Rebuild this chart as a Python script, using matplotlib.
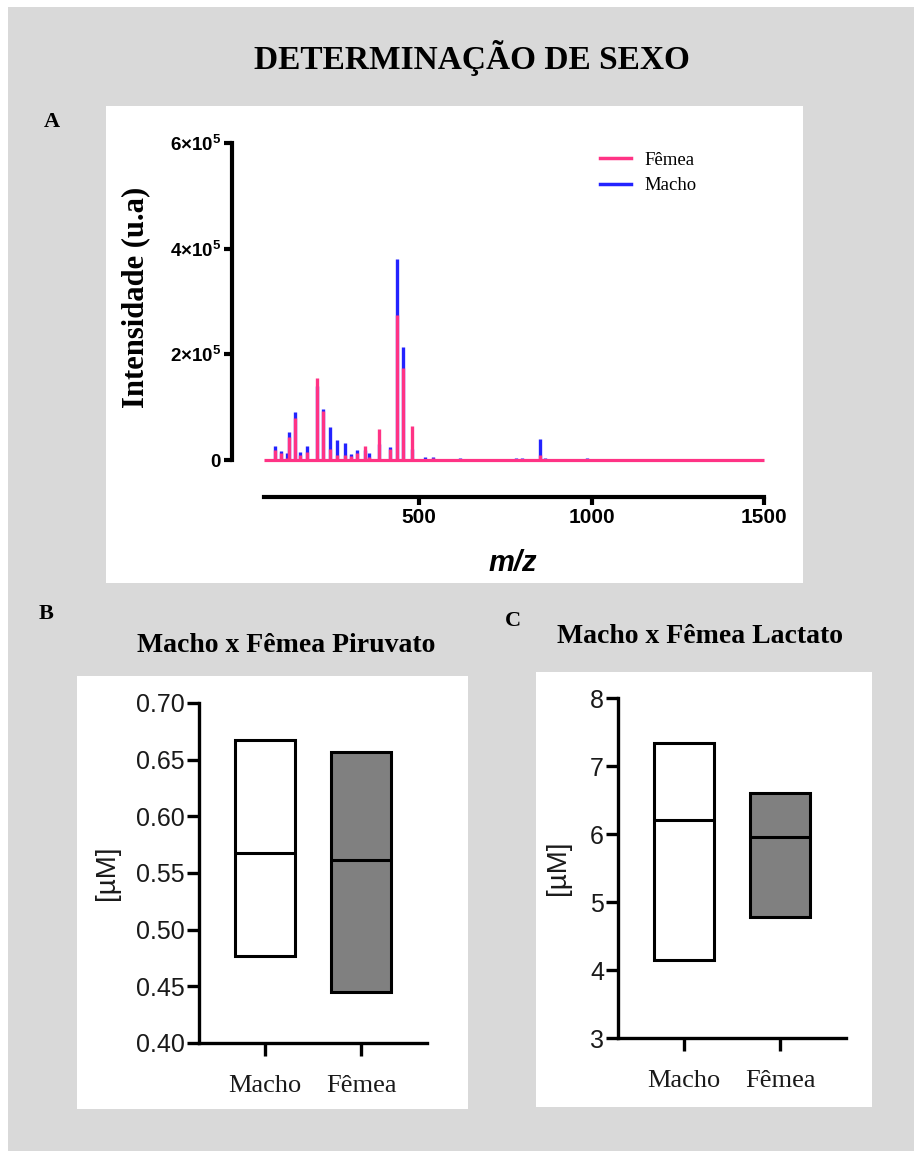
import matplotlib
matplotlib.use("Agg")
import matplotlib.pyplot as plt
from matplotlib.patches import Rectangle
from matplotlib.lines import Line2D
import numpy as np

# ---------------- data ----------------
# Panel A: mass spectrum peaks (m/z, intensity in arbitrary units)
peak_mz = [83, 98, 117, 122, 139, 153, 175, 204, 221, 240, 263, 284, 301, 321,
           343, 355, 384, 415, 437, 453, 478, 516, 539, 617, 648, 720, 749, 782,
           798, 850, 866, 897, 949, 986, 1017, 1148]
femea_int = [19e3, 13e3, 4e3, 43e3, 79e3, 10e3, 16e3, 156e3, 93e3, 20e3, 10e3,
             10e3, 8e3, 13e3, 27e3, 5e3, 58e3, 20e3, 274e3, 175e3, 65e3, 2e3,
             3e3, 2e3, 2e3, 1e3, 1e3, 2e3, 2e3, 10e3, 2e3, 1e3, 1e3, 1e3, 1e3, 1e3]
macho_int = [26e3, 17e3, 13e3, 53e3, 91e3, 16e3, 26e3, 140e3, 96e3, 62e3, 38e3,
             33e3, 12e3, 18e3, 18e3, 13e3, 30e3, 24e3, 380e3, 213e3, 20e3, 5e3,
             6e3, 4e3, 2e3, 2e3, 2e3, 3e3, 4e3, 39e3, 4e3, 2e3, 2e3, 3e3, 2e3, 2e3]
mz_range = [50, 1500]
yticks_a = [0, 2e5, 4e5, 6e5]
yticklabels_a = ["0", r"$\mathbf{2{\times}10^{5}}$", r"$\mathbf{4{\times}10^{5}}$",
                 r"$\mathbf{6{\times}10^{5}}$"]
xticks_a = [500, 1000, 1500]

# Panels B and C: floating bars (min, median, max)
groups = ["Macho", "Fêmea"]
piruvato_min = [0.4765, 0.4447]
piruvato_med = [0.5676, 0.5612]
piruvato_max = [0.6676, 0.6570]
lactato_min = [4.15, 4.78]
lactato_med = [6.21, 5.96]
lactato_max = [7.34, 6.60]

# ---------------- layout helpers ----------------
W, H = 914, 1151
DPI = 100
fig = plt.figure(figsize=(W / DPI, H / DPI), dpi=DPI)
fig.patch.set_facecolor("white")

SERIF = "Liberation Serif"
SANS = "Liberation Sans"
plt.rcParams["mathtext.fontset"] = "custom"
plt.rcParams["mathtext.rm"] = SANS
plt.rcParams["mathtext.bf"] = "Liberation Sans:bold"
plt.rcParams["mathtext.it"] = "Liberation Sans:italic"


def fx(x):
    return x / W


def fy(y):
    return 1 - y / H


def rect(x0, y0, x1, y1):
    return [fx(x0), fy(y1), fx(x1) - fx(x0), fy(y0) - fy(y1)]


# grey page with white panels
fig.add_artist(Rectangle((fx(8), 0), 1 - fx(8), fy(7), transform=fig.transFigure,
                         facecolor="#d9d9d9", edgecolor="none", zorder=-3))
for (x0, y0, x1, y1) in [(106, 106, 803, 583), (77, 676, 468, 1109), (536, 672, 872, 1107)]:
    fig.add_artist(Rectangle((fx(x0), fy(y1)), fx(x1) - fx(x0), fy(y0) - fy(y1),
                             transform=fig.transFigure, facecolor="white",
                             edgecolor="none", zorder=-2))

# ---------------- Panel A ----------------
PINK = "#ff3385"
BLUE = "#2323ff"
axA = fig.add_axes(rect(264, 143, 764, 460))
axA.set_facecolor("none")
axA.vlines(peak_mz, 0, macho_int, color=BLUE, lw=2.4, zorder=2, clip_on=False)
axA.vlines(peak_mz, 0, femea_int, color=PINK, lw=2.4, zorder=3, clip_on=False)
axA.hlines(0, mz_range[0], mz_range[1], color=PINK, lw=2.3, zorder=3, clip_on=False)
axA.set_xlim(mz_range[0], mz_range[1])
axA.set_ylim(0, 6e5)
for s in ["top", "right"]:
    axA.spines[s].set_visible(False)
axA.spines["left"].set_position(("outward", 23))
axA.spines["left"].set_bounds(0, 6e5)
axA.spines["left"].set_linewidth(3)
axA.spines["bottom"].set_position(("outward", 26.5))
axA.spines["bottom"].set_bounds(mz_range[0], mz_range[1])
axA.spines["bottom"].set_linewidth(3)
axA.set_yticks(yticks_a)
axA.set_yticklabels(yticklabels_a)
axA.set_xticks(xticks_a)
axA.set_xticklabels([str(v) for v in xticks_a])
axA.tick_params(axis="both", width=3, length=6, direction="out", pad=2)
for lab in axA.get_xticklabels():
    lab.set_fontfamily(SANS)
    lab.set_fontweight("bold")
    lab.set_fontsize(15)
for lab in axA.get_yticklabels():
    lab.set_fontfamily(SANS)
    lab.set_fontweight("bold")
    lab.set_fontsize(13.5)

handles = [Line2D([], [], color=PINK, lw=2.5), Line2D([], [], color=BLUE, lw=2.5)]
fig.legend(handles, ["Fêmea", "Macho"], loc="upper left",
           bbox_to_anchor=(fx(592), fy(144)), frameon=False,
           prop={"family": SERIF, "size": 13.5}, handlelength=1.7,
           handletextpad=0.7, labelspacing=0.45, borderaxespad=0)

fig.text(fx(136), fy(297), "Intensidade (u.a)", rotation=90, ha="center",
         va="center", family=SERIF, weight="bold", size=22)
fig.text(fx(513), fy(563), "m/z", ha="center", va="center", family=SANS,
         weight="bold", style="italic", size=21)
fig.text(fx(472), fy(58), "DETERMINAÇÃO DE SEXO", ha="center", va="center",
         family=SERIF, weight="bold", size=24)
fig.text(fx(52), fy(122), "A", ha="center", va="center", family=SERIF,
         weight="bold", size=16)
fig.text(fx(46), fy(614), "B", ha="center", va="center", family=SERIF,
         weight="bold", size=16)
fig.text(fx(513), fy(621), "C", ha="center", va="center", family=SERIF,
         weight="bold", size=16)


# ---------------- Panels B and C ----------------
def floating_panel(box, vmin, vmed, vmax, ylim, yticks, yticklabels, labelpad):
    ax = fig.add_axes(rect(*box))
    ax.set_facecolor("none")
    x = np.arange(1, len(groups) + 1)
    width = 0.63
    heights = np.array(vmax) - np.array(vmin)
    ax.bar(x, heights, bottom=vmin, width=width, color=["white", "#808080"],
           edgecolor="black", linewidth=2.2, zorder=2)
    ax.hlines(vmed, x - width / 2, x + width / 2, color="black", lw=2.2, zorder=3)
    ax.set_xlim(0.3125, 2.6875)
    ax.set_ylim(*ylim)
    for s in ["top", "right"]:
        ax.spines[s].set_visible(False)
    for s in ["left", "bottom"]:
        ax.spines[s].set_linewidth(2.4)
    ax.set_yticks(yticks)
    ax.set_yticklabels(yticklabels, family=SANS, size=18, color="#1a1a1a")
    ax.set_xticks(x)
    ax.set_xticklabels(groups, family=SERIF, size=19, color="#1a1a1a")
    ax.tick_params(axis="y", width=2.4, length=9, pad=1)
    ax.tick_params(axis="x", width=2.4, length=9, pad=14)
    ax.set_ylabel("[µM]", family=SANS, size=20, color="#1a1a1a", labelpad=labelpad)
    return ax


axB = floating_panel((199, 703, 427, 1043), piruvato_min, piruvato_med, piruvato_max,
                     (0.40, 0.70), [0.40, 0.45, 0.50, 0.55, 0.60, 0.65, 0.70],
                     ["0.40", "0.45", "0.50", "0.55", "0.60", "0.65", "0.70"], 12)
axC = floating_panel((618, 698, 846, 1038), lactato_min, lactato_med, lactato_max,
                     (3, 8), [3, 4, 5, 6, 7, 8], ["3", "4", "5", "6", "7", "8"], 14)

fig.text(fx(286), fy(646), "Macho x Fêmea Piruvato", ha="center", va="center",
         family=SERIF, weight="bold", size=20)
fig.text(fx(700), fy(637), "Macho x Fêmea Lactato", ha="center", va="center",
         family=SERIF, weight="bold", size=20)

fig.savefig("out.png", dpi=DPI, facecolor=fig.get_facecolor())
